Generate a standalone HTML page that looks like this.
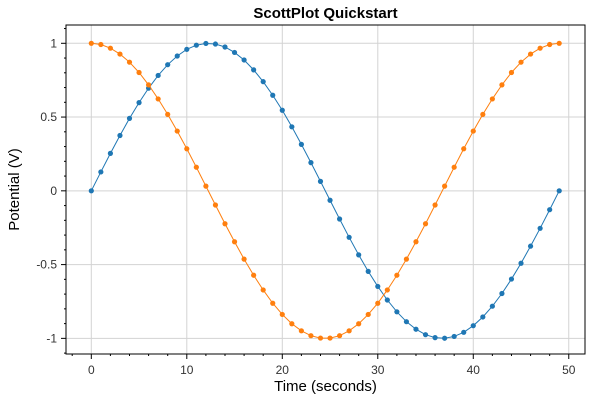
<!DOCTYPE html>
<html><head><meta charset="utf-8"><style>
body{margin:0;background:#fff;}
svg{display:block;font-family:"Liberation Sans",sans-serif;}
</style></head><body>
<svg id="chart" width="600" height="400" viewBox="0 0 600 400"></svg>
<script>
const xs=[0,1,2,3,4,5,6,7,8,9,10,11,12,13,14,15,16,17,18,19,20,21,22,23,24,25,26,27,28,29,30,31,32,33,34,35,36,37,38,39,40,41,42,43,44,45,46,47,48,49];
const sinVals=[0,.128,.254,.375,.491,.598,.696,.782,.855,.914,.959,.987,.999,.995,.975,.938,.887,.820,.740,.648,.546,.434,.315,.191,.064,-.064,-.191,-.315,-.434,-.546,-.648,-.740,-.820,-.887,-.938,-.975,-.995,-.999,-.987,-.959,-.914,-.855,-.782,-.696,-.598,-.491,-.375,-.254,-.128,0];
const cosVals=[1,.992,.967,.927,.872,.802,.718,.623,.518,.405,.285,.160,.032,-.096,-.223,-.345,-.463,-.572,-.672,-.762,-.838,-.901,-.949,-.982,-.998,-.998,-.982,-.949,-.901,-.838,-.762,-.672,-.572,-.463,-.345,-.223,-.096,.032,.160,.285,.405,.518,.623,.718,.802,.872,.927,.967,.992,1];
const xTicks=[0,10,20,30,40,50];
const yTicks=[1,0.5,0,-0.5,-1];
const yTickLabels=["1","0.5","0","-0.5","-1"];

const L=66,R=585,T=25,B=354;
const xMin=-2.65,xMax=51.7,yMin=-1.106,yMax=1.124;
const sx=v=>L+(v-xMin)/(xMax-xMin)*(R-L);
const sy=v=>B-(v-yMin)/(yMax-yMin)*(B-T);
const svg=document.getElementById('chart');
const NS='http://www.w3.org/2000/svg';
function mk(tag,attrs,parent){const e=document.createElementNS(NS,tag);for(const k in attrs)e.setAttribute(k,attrs[k]);(parent||svg).appendChild(e);return e;}

xTicks.forEach(t=>{const x=sx(t);if(x<L||x>R)return;
const g=mk('line',{x1:x,x2:x,y1:T,y2:B,stroke:'#d3d3d3','stroke-width':1});

});
yTicks.forEach(t=>{const y=sy(t);
const g=mk('line',{x1:L,x2:R,y1:y,y2:y,stroke:'#d3d3d3','stroke-width':1});

});

function series(vals,color,name){
  const pts=xs.map((x,i)=>sx(x)+','+sy(vals[i])).join(' ');
  const pl=mk('polyline',{points:pts,fill:'none',stroke:color,'stroke-width':1});
  
  
  xs.forEach((x,i)=>{const c=mk('circle',{cx:sx(x),cy:sy(vals[i]),r:2.6,fill:color});
    
    });
}
series(sinVals,'#1f77b4','sin-series');
series(cosVals,'#ff7f0e','cos-series');

const fr=mk('rect',{x:L,y:T,width:R-L,height:B-T,fill:'none',stroke:'#000','stroke-width':1});



for(let v=-2;v<=51;v+=2){const x=sx(v);if(x<L||x>R)continue;
  const major=v%10===0;
  const t=mk('line',{x1:x,x2:x,y1:B,y2:B+(major?5:2),stroke:'#000','stroke-width':1});
  
  }
for(let k=-11;k<=11;k++){const v=k/10;const y=sy(v);if(y<T||y>B)continue;
  const major=k%5===0;
  const t=mk('line',{x1:L,x2:L-(major?5:2),y1:y,y2:y,stroke:'#000','stroke-width':1});
  
  }
xTicks.forEach(t=>{const x=sx(t);if(x>R+1)return;
  const e=mk('text',{x:x,y:B+20,'text-anchor':'middle','font-size':12,fill:'#333'});e.textContent=String(t);
  
  });
yTicks.forEach((t,i)=>{const e=mk('text',{x:L-9,y:sy(t)+4,'text-anchor':'end','font-size':12,fill:'#333'});e.textContent=yTickLabels[i];
  
  });

const ti=mk('text',{x:(L+R)/2,y:18,'text-anchor':'middle','font-size':15,'font-weight':'bold',fill:'#000'});ti.textContent='ScottPlot Quickstart';


const xl=mk('text',{x:(L+R)/2,y:391,'text-anchor':'middle','font-size':15,fill:'#000'});xl.textContent='Time (seconds)';


const yl=mk('text',{x:0,y:0,'text-anchor':'middle','font-size':15,fill:'#000',transform:'translate(19,'+((T+B)/2)+') rotate(-90)'});yl.textContent='Potential (V)';


</script>
</body></html>
